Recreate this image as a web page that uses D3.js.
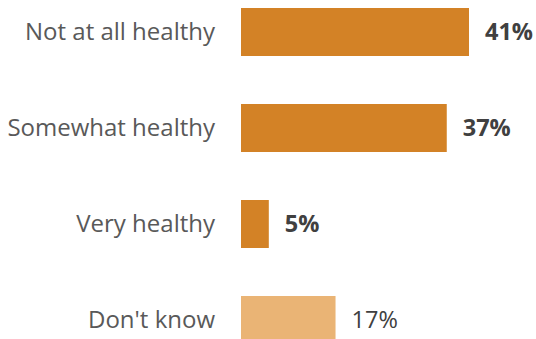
<!DOCTYPE html>
<html>
<head>
<meta charset="utf-8">
<script src="https://cdn.jsdelivr.net/npm/d3@7"></script>
<style>
  html, body { margin: 0; padding: 0; background: #fff; }
  svg { display: block; font-family: "Open Sans", sans-serif; }
</style>
</head>
<body>
<svg id="chart" width="536" height="339"></svg>
<script>
// Survey answers and their shares (%)
const categories = ["Not at all healthy", "Somewhat healthy", "Very healthy", "Don't know"];
const values = [41, 37, 5, 17];
const highlighted = [true, true, true, false];

const svg = d3.select("#chart");
const barLeft = 241;

const x = d3.scaleLinear().domain([0, 41]).range([barLeft, 469]);
const y = d3.scaleBand()
  .domain(categories)
  .range([-16, 368])
  .paddingInner(0.5)
  .paddingOuter(0.25);

const rows = categories.map((c, i) => ({ c, v: values[i], hi: highlighted[i] }));

svg.selectAll("rect.bar")
  .data(rows)
  .join("rect")
  .attr("class", "bar")
  .attr("x", x(0))
  .attr("y", d => y(d.c))
  .attr("width", d => x(d.v) - x(0))
  .attr("height", y.bandwidth())
  .attr("fill", d => d.hi ? "#D38226" : "#EAB475");

svg.selectAll("text.cat")
  .data(rows)
  .join("text")
  .attr("class", "cat")
  .attr("x", 215)
  .attr("y", d => y(d.c) + y.bandwidth() / 2)
  .attr("dy", "0.33em")
  .attr("text-anchor", "end")
  .attr("fill", "#595959")
  .style("font-size", "24px")
  .text(d => d.c);

svg.selectAll("text.val")
  .data(rows)
  .join("text")
  .attr("class", "val")
  .attr("x", d => x(d.v) + 16)
  .attr("y", d => y(d.c) + y.bandwidth() / 2)
  .attr("dy", "0.35em")
  .attr("fill", "#404040")
  .style("font-size", "23.5px")
  .style("font-weight", d => d.hi ? 700 : 400)
  .text(d => d.v + "%");
</script>
</body>
</html>
